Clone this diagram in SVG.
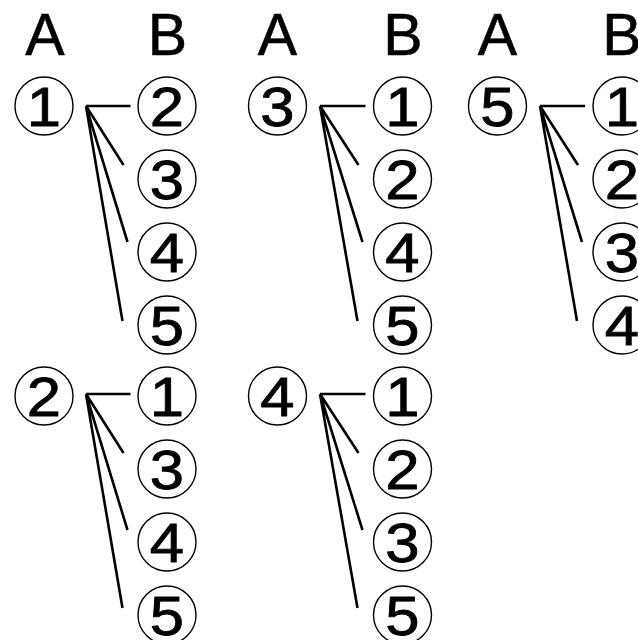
<svg xmlns="http://www.w3.org/2000/svg" width="638" height="640" viewBox="0 0 638 640">
<style>
.h{font-family:"Liberation Sans",Arial,sans-serif;font-size:59px;fill:#000;stroke:#000;stroke-width:0.6;text-anchor:middle}
.d{font-family:"Liberation Sans",Arial,sans-serif;font-size:56px;fill:#000;stroke:#000;stroke-width:0.8;text-anchor:middle}
.n circle{fill:none;stroke:#000;stroke-width:1.4}
.ln{stroke:#000;stroke-width:2.6;fill:none;stroke-linecap:butt}
</style>
<rect width="638" height="640" fill="#fff"/>
<g id="headers">
<text class="h" x="45" y="55">A</text><text class="h" x="167.5" y="55">B</text>
<text class="h" x="277.5" y="55">A</text><text class="h" x="403" y="55">B</text>
<text class="h" x="497.5" y="55">A</text><text class="h" x="622" y="55">B</text>
</g>
<g id="connectors">
<path class="ln" d="M86 106H130.5M86 106L123.5 165M86 106L127.5 242M86 106L122.5 321"/>
<path class="ln" d="M320 106H365.5M320 106L358.5 165M320 106L362.5 242M320 106L357.5 321"/>
<path class="ln" d="M540 106H585M540 106L578 165M540 106L582 242M540 106L577 321"/>
<path class="ln" d="M86 394H130.5M86 394L123.5 453M86 394L127.5 530M86 394L122.5 608"/>
<path class="ln" d="M320 394H365.5M320 394L358.5 453M320 394L362.5 530M320 394L357.5 608"/>
</g>
<g id="g1a" class="n" transform="translate(44,106)"><circle r="29"/><text class="d" transform="translate(0,20) scale(1.1,1)">1</text></g>
<g id="g1b2" class="n" transform="translate(167,106)"><circle r="29"/><text class="d" transform="translate(0,20) scale(1.1,1)">2</text></g>
<g id="g1b3" class="n" transform="translate(167,179)"><circle r="29"/><text class="d" transform="translate(0,20) scale(1.1,1)">3</text></g>
<g id="g1b4" class="n" transform="translate(167,252)"><circle r="29"/><text class="d" transform="translate(0,20) scale(1.1,1)">4</text></g>
<g id="g1b5" class="n" transform="translate(167,325)"><circle r="29"/><text class="d" transform="translate(0,20) scale(1.1,1)">5</text></g>
<g id="g3a" class="n" transform="translate(277.5,106)"><circle r="29"/><text class="d" transform="translate(0,20) scale(1.1,1)">3</text></g>
<g id="g3b1" class="n" transform="translate(402.5,106)"><circle r="29"/><text class="d" transform="translate(0,20) scale(1.1,1)">1</text></g>
<g id="g3b2" class="n" transform="translate(402.5,179)"><circle r="29"/><text class="d" transform="translate(0,20) scale(1.1,1)">2</text></g>
<g id="g3b4" class="n" transform="translate(402.5,252)"><circle r="29"/><text class="d" transform="translate(0,20) scale(1.1,1)">4</text></g>
<g id="g3b5" class="n" transform="translate(402.5,325)"><circle r="29"/><text class="d" transform="translate(0,20) scale(1.1,1)">5</text></g>
<g id="g5a" class="n" transform="translate(497.5,106)"><circle r="29"/><text class="d" transform="translate(0,20) scale(1.1,1)">5</text></g>
<g id="g5b1" class="n" transform="translate(622,106)"><circle r="29"/><text class="d" transform="translate(0,20) scale(1.1,1)">1</text></g>
<g id="g5b2" class="n" transform="translate(622,179)"><circle r="29"/><text class="d" transform="translate(0,20) scale(1.1,1)">2</text></g>
<g id="g5b3" class="n" transform="translate(622,252)"><circle r="29"/><text class="d" transform="translate(0,20) scale(1.1,1)">3</text></g>
<g id="g5b4" class="n" transform="translate(622,325)"><circle r="29"/><text class="d" transform="translate(0,20) scale(1.1,1)">4</text></g>
<g id="g2a" class="n" transform="translate(44,396)"><circle r="29"/><text class="d" transform="translate(0,20) scale(1.1,1)">2</text></g>
<g id="g2b1" class="n" transform="translate(167,396)"><circle r="29"/><text class="d" transform="translate(0,20) scale(1.1,1)">1</text></g>
<g id="g2b3" class="n" transform="translate(167,469)"><circle r="29"/><text class="d" transform="translate(0,20) scale(1.1,1)">3</text></g>
<g id="g2b4" class="n" transform="translate(167,542)"><circle r="29"/><text class="d" transform="translate(0,20) scale(1.1,1)">4</text></g>
<g id="g2b5" class="n" transform="translate(167,615)"><circle r="29"/><text class="d" transform="translate(0,20) scale(1.1,1)">5</text></g>
<g id="g4a" class="n" transform="translate(277.5,396)"><circle r="29"/><text class="d" transform="translate(0,20) scale(1.1,1)">4</text></g>
<g id="g4b1" class="n" transform="translate(402.5,396)"><circle r="29"/><text class="d" transform="translate(0,20) scale(1.1,1)">1</text></g>
<g id="g4b2" class="n" transform="translate(402.5,469)"><circle r="29"/><text class="d" transform="translate(0,20) scale(1.1,1)">2</text></g>
<g id="g4b3" class="n" transform="translate(402.5,542)"><circle r="29"/><text class="d" transform="translate(0,20) scale(1.1,1)">3</text></g>
<g id="g4b5" class="n" transform="translate(402.5,615)"><circle r="29"/><text class="d" transform="translate(0,20) scale(1.1,1)">5</text></g>
</svg>
